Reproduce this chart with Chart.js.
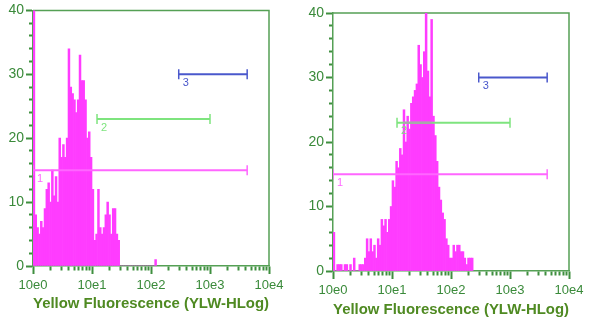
<!DOCTYPE html>
<html lang="en">
<head>
<meta charset="UTF-8">
<title>Yellow Fluorescence (YLW-HLog)</title>
<script src="https://cdn.jsdelivr.net/npm/chart.js"></script>
<style>
    body { margin: 0; background: #ffffff; }
    .row { display: flex; width: 600px; height: 323px; }
    .row canvas { display: block; }
</style>
</head>
<body>
<div class="row">
    <canvas id="histA" width="300" height="323"></canvas>
    <canvas id="histB" width="300" height="323"></canvas>
</div>
<script>
// histogram channels: 32 per decade, channel 0 starts at 10e0
const channelsPerDecade = 32;
const decadeLabels = ['10e0', '10e1', '10e2', '10e3', '10e4'];
const axisTitle = 'Yellow Fluorescence (YLW-HLog)';

const countsA = [
    60, 8, 6, 5, 7, 6, 9, 12, 13, 10, 15, 11, 14, 10, 20, 17,
    19, 17, 20, 34, 28, 27, 26, 24, 26, 33, 29, 29, 26, 20, 21, 17,
    12, 4, 5, 12, 6, 5, 6, 8, 10, 8, 5, 9, 9, 5, 4, 0,
    0, 0, 0, 0, 0, 0, 0, 0, 0, 0, 0, 0, 0, 0, 0, 0,
    0, 0, 1
];

const countsB = [
    6, 0, 1, 1, 1, 0, 1, 1, 0, 1, 0, 2, 0, 0, 1, 1,
    1, 2, 5, 3, 5, 3, 4, 2, 5, 4, 8, 7, 8, 6, 8, 10,
    14, 13, 17, 16, 19, 18, 25, 20, 24, 22, 26, 27, 28, 29, 35, 32,
    30, 34, 40, 31, 27, 39, 24, 21, 17, 13, 11, 9, 8, 5, 4, 2,
    2, 4, 3, 4, 4, 3, 3, 2, 1, 2, 2, 2
];

// range gates: start / end in decades, level in counts
const markerNames = ['1', '2', '3'];
const markerStart = [0, 1.085, 2.47];
const markerEnd = [3.63, 3.0, 3.63];
const markerLevel = [15, 23, 30];
// stretch of gate 2 that sits on top of the sample B peak
const overlapB = [1.19, 1.68];

const axisColor = '#55a055';
const tickMark = '#3f8f3f';
const tickText = '#3a8a3a';
const titleColor = '#4f8a22';
const barColor = '#ff3cff';
const markerColors = ['#ff66ff', '#7ee47e', '#4a58cc'];

Chart.defaults.font.family = '"Liberation Sans", Arial, sans-serif';
Chart.defaults.animation = false;

// minor ticks at 2..9 inside every decade
const logTicks = [];
for (let d = 0; d < 4; d++) {
    for (let m = 1; m < 10; m++) logTicks.push(d + Math.log10(m));
}
logTicks.push(4);

// minor tick marks are shortened with a dash pattern
const xTickDash = ctx => Number.isInteger(ctx.tick.value) ? [] : [4, 20];
const yTickDash = ctx => ctx.tick.value % 10 === 0 ? [] : [0, 3, 4, 20];

const gatePlugin = {
    id: 'gates',
    beforeDatasetsDraw(chart) {
        const { ctx, chartArea: a } = chart;
        ctx.save();
        ctx.strokeStyle = axisColor;
        ctx.lineWidth = 1.5;
        ctx.beginPath();
        ctx.moveTo(a.left, a.top);
        ctx.lineTo(a.right, a.top);
        ctx.lineTo(a.right, a.bottom);
        ctx.stroke();
        ctx.restore();
    },
    afterDatasetsDraw(chart) {
        const { ctx, scales: { x, y } } = chart;
        ctx.save();
        ctx.font = '11px "Liberation Sans", Arial, sans-serif';
        ctx.textBaseline = 'top';
        markerNames.forEach((name, i) => {
            ctx.fillStyle = markerColors[i];
            ctx.fillText(name, x.getPixelForValue(markerStart[i]) + 4, y.getPixelForValue(markerLevel[i]) + 3);
        });
        ctx.restore();
    }
};

function gateDataset(from, to, level, color, caps, order) {
    return {
        type: 'line',
        data: [{ x: from, y: level }, { x: to, y: level }],
        borderColor: color,
        borderWidth: 2,
        pointStyle: 'line',
        rotation: 90,
        pointRadius: caps ? 5 : 0,
        pointBorderColor: color,
        pointBorderWidth: 1.5,
        fill: false,
        order: order
    };
}

function makeHistogram(id, counts, extra, pad, xHeight) {
    const datasets = markerNames.map((_, i) =>
        gateDataset(markerStart[i], markerEnd[i], markerLevel[i], markerColors[i], true, 1));
    extra.forEach(d => datasets.push(d));
    datasets.push({
        type: 'bar',
        data: counts.map((c, i) => ({ x: (i + 0.5) / channelsPerDecade, y: c })),
        backgroundColor: barColor,
        borderWidth: 0,
        barPercentage: 1,
        categoryPercentage: 1,
        order: 2
    });

    return new Chart(document.getElementById(id), {
        type: 'bar',
        data: { datasets },
        options: {
            responsive: false,
            layout: { padding: pad },
            plugins: { legend: { display: false }, tooltip: { enabled: false } },
            scales: {
                x: {
                    type: 'linear',
                    min: 0,
                    max: 4,
                    offset: false,
                    afterBuildTicks: s => { s.ticks = logTicks.map(v => ({ value: v })); },
                    afterFit: s => { s.height = xHeight; },
                    ticks: {
                        autoSkip: false,
                        maxTicksLimit: 100,
                        maxRotation: 0,
                        padding: 4,
                        color: tickText,
                        font: { size: 13 },
                        callback: v => Number.isInteger(v) ? decadeLabels[v] : ''
                    },
                    grid: {
                        offset: false,
                        drawOnChartArea: false,
                        tickLength: 8,
                        tickColor: tickMark,
                        tickWidth: 2,
                        tickBorderDash: xTickDash
                    },
                    border: { color: axisColor, width: 1.5 },
                    title: {
                        display: true,
                        text: axisTitle,
                        color: titleColor,
                        font: { size: 15, weight: 'bold', lineHeight: 1.2 },
                        padding: 0
                    }
                },
                y: {
                    min: 0,
                    max: 40,
                    afterFit: s => { s.width = 33; },
                    ticks: {
                        stepSize: 2,
                        autoSkip: false,
                        maxTicksLimit: 100,
                        padding: 2,
                        color: tickText,
                        font: { size: 14 },
                        callback: v => v % 10 === 0 ? v : ''
                    },
                    grid: {
                        drawOnChartArea: false,
                        tickLength: 7,
                        tickColor: tickMark,
                        tickWidth: 2,
                        tickBorderDash: yTickDash
                    },
                    border: { color: axisColor, width: 1.5 }
                }
            }
        },
        plugins: [gatePlugin]
    });
}

makeHistogram('histA', countsA, [], { top: 8, right: 31, bottom: 10, left: 0 }, 47);
makeHistogram('histB', countsB,
    [gateDataset(overlapB[0], overlapB[1], markerLevel[1], '#a8a8a8', false, 0)],
    { top: 13, right: 31, bottom: 4, left: 0 }, 48);
</script>
</body>
</html>
